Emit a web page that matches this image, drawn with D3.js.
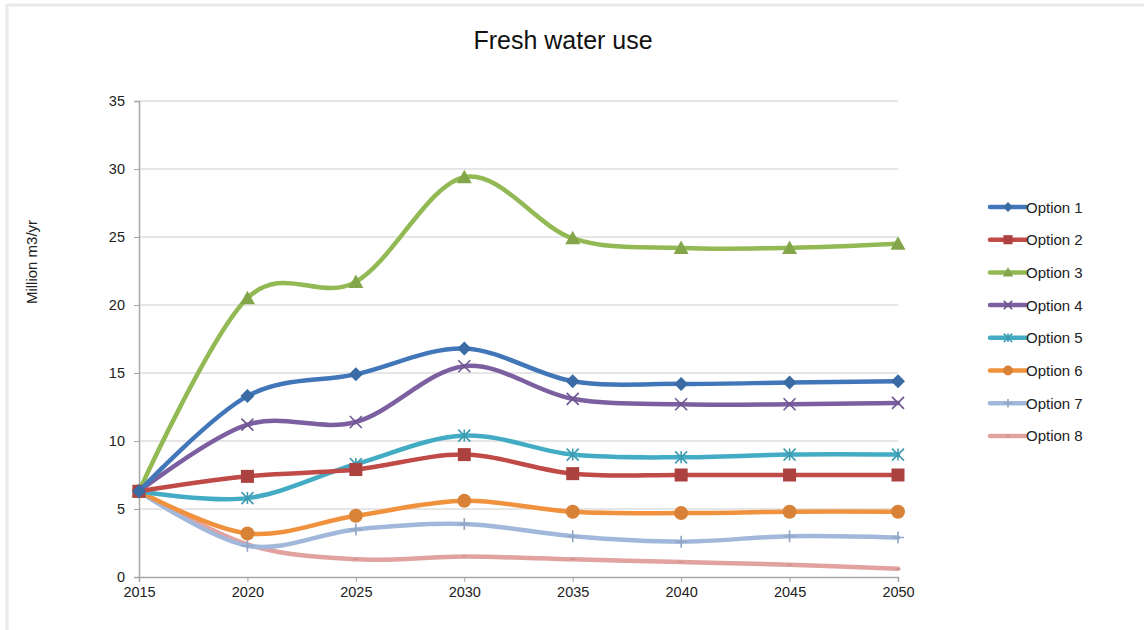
<!DOCTYPE html>
<html>
<head>
<meta charset="utf-8">
<script src="https://cdn.jsdelivr.net/npm/d3@7"></script>
<style>
	body { margin: 0; background: #fff; }
	svg { display: block; font-family: "Liberation Sans", Arial, sans-serif; }
</style>
</head>
<body>
<svg class="chart"></svg>
<script>
var years = [2015, 2020, 2025, 2030, 2035, 2040, 2045, 2050];
var yTicks = [0, 5, 10, 15, 20, 25, 30, 35];

var option1 = [6.3, 13.3, 14.9, 16.8, 14.4, 14.2, 14.3, 14.4];
var option2 = [6.3, 7.4, 7.9, 9.0, 7.6, 7.5, 7.5, 7.5];
var option3 = [6.3, 20.5, 21.7, 29.4, 24.9, 24.2, 24.2, 24.5];
var option4 = [6.3, 11.2, 11.4, 15.5, 13.1, 12.7, 12.7, 12.8];
var option5 = [6.3, 5.8, 8.3, 10.4, 9.0, 8.8, 9.0, 9.0];
var option6 = [6.3, 3.2, 4.5, 5.6, 4.8, 4.7, 4.8, 4.8];
var option7 = [6.3, 2.3, 3.5, 3.9, 3.0, 2.6, 3.0, 2.9];
var option8 = [6.3, 2.4, 1.3, 1.5, 1.3, 1.1, 0.9, 0.6];

var seriesNames = ["Option 1", "Option 2", "Option 3", "Option 4", "Option 5", "Option 6", "Option 7", "Option 8"];
var seriesValues = [option1, option2, option3, option4, option5, option6, option7, option8];
var colors = ["#4177b8", "#bf4a47", "#93b954", "#7c5fa0", "#43acc4", "#f0913d", "#a1b8db", "#e1a2a0"];
var shapes = ["diamond", "square", "triangle", "cross", "asterisk", "circle", "plus", "dash"];

var width = 1144, height = 630;
var margin = { left: 139, right: 246, top: 101, bottom: 53 };

var svg = d3.select(".chart")
	.attr("width", width)
	.attr("height", height);

// faint frame on top and left
svg.append("path")
	.attr("d", "M7,640 L7,5 L1144,5")
	.attr("fill", "none")
	.attr("stroke", "#e9e9e9")
	.attr("stroke-width", 3);

var x = d3.scaleLinear()
	.domain([2015, 2050])
	.range([margin.left, width - margin.right]);

var y = d3.scaleLinear()
	.domain([0, 35])
	.range([height - margin.bottom, margin.top]);

svg.append("text")
	.attr("x", 563)
	.attr("y", 49)
	.attr("text-anchor", "middle")
	.attr("font-size", 25)
	.attr("fill", "#111")
	.text("Fresh water use");

// gridlines
svg.append("g")
	.selectAll("line")
	.data(yTicks.slice(1))
	.enter()
	.append("line")
		.attr("x1", x(2015))
		.attr("x2", x(2050))
		.attr("y1", function(d) { return y(d); })
		.attr("y2", function(d) { return y(d); })
		.attr("stroke", "#e6e6e6")
		.attr("stroke-width", 2);

var yAxis = svg.append("g")
	.attr("transform", "translate(" + x(2015) + ",0)")
	.call(d3.axisLeft(y).tickValues(yTicks).tickSize(5).tickPadding(9).tickFormat(d3.format("d")));

var xAxis = svg.append("g")
	.attr("transform", "translate(0," + y(0) + ")")
	.call(d3.axisBottom(x).tickValues(years).tickSize(5).tickPadding(5).tickFormat(d3.format("d")));

[yAxis, xAxis].forEach(function(ax) {
	ax.select(".domain").attr("stroke", "#a6a6a6").attr("stroke-width", 1.5);
	ax.selectAll(".tick line").attr("stroke", "#a6a6a6");
	ax.selectAll(".tick text")
		.attr("font-size", 14.5)
		.attr("fill", "#222")
		.attr("font-family", "Liberation Sans, Arial, sans-serif");
});

svg.append("text")
	.attr("transform", "translate(37,262) rotate(-90)")
	.attr("text-anchor", "middle")
	.attr("font-size", 15)
	.attr("fill", "#222")
	.text("Million m3/yr");

function marker(g, shape, color, size) {
	var s = size / 2;
	if (shape == "diamond") {
		g.append("path").attr("d", "M0," + (-s) + "L" + s + ",0L0," + s + "L" + (-s) + ",0Z").attr("fill", color);
	} else if (shape == "square") {
		g.append("rect").attr("x", -s).attr("y", -s).attr("width", size).attr("height", size).attr("fill", color);
	} else if (shape == "triangle") {
		g.append("path").attr("d", "M0," + (-s) + "L" + s + "," + (s * 0.8) + "L" + (-s) + "," + (s * 0.8) + "Z").attr("fill", color);
	} else if (shape == "circle") {
		g.append("circle").attr("r", s).attr("fill", color);
	} else if (shape == "cross") {
		g.append("path").attr("d", "M" + (-s) + "," + (-s) + "L" + s + "," + s + "M" + s + "," + (-s) + "L" + (-s) + "," + s)
			.attr("stroke", color).attr("stroke-width", 1.6).attr("fill", "none");
	} else if (shape == "asterisk") {
		g.append("path").attr("d", "M" + (-s) + "," + (-s) + "L" + s + "," + s + "M" + s + "," + (-s) + "L" + (-s) + "," + s + "M0," + (-s) + "L0," + s)
			.attr("stroke", color).attr("stroke-width", 1.6).attr("fill", "none");
	} else if (shape == "plus") {
		g.append("path").attr("d", "M" + (-s) + ",0L" + s + ",0M0," + (-s) + "L0," + s)
			.attr("stroke", color).attr("stroke-width", 1.6).attr("fill", "none");
	} else if (shape == "dash") {
		g.append("path").attr("d", "M" + (-s * 0.6) + ",0L" + (s * 0.6) + ",0")
			.attr("stroke", color).attr("stroke-width", 1.5).attr("fill", "none");
	}
}

var line = d3.line()
	.x(function(d, i) { return x(years[i]); })
	.y(function(d) { return y(d); })
	.curve(d3.curveCardinal.tension(0));

var markerSize = [14, 13, 15, 12, 12, 14, 12, 8];

// draw in reverse so Option 1 ends up on top
for (var k = seriesValues.length - 1; k >= 0; k--) {
	var g = svg.append("g").attr("class", "series");
	g.append("path")
		.datum(seriesValues[k])
		.attr("d", line)
		.attr("fill", "none")
		.attr("stroke", colors[k])
		.attr("stroke-width", 4.5)
		.attr("stroke-linecap", "round");
	seriesValues[k].forEach(function(v, i) {
		var m = g.append("g").attr("transform", "translate(" + x(years[i]) + "," + y(v) + ")");
		marker(m, shapes[k], d3.color(colors[k]).darker(0.3), markerSize[k]);
	});
}

// legend
var legend = svg.append("g").attr("transform", "translate(990,207)");
seriesNames.forEach(function(name, k) {
	var row = legend.append("g").attr("transform", "translate(0," + (k * 32.7) + ")");
	row.append("line")
		.attr("x1", 0).attr("x2", 36)
		.attr("stroke", colors[k])
		.attr("stroke-width", 4.5)
		.attr("stroke-linecap", "round");
	var m = row.append("g").attr("transform", "translate(18,0)");
	marker(m, shapes[k], d3.color(colors[k]).darker(0.3), markerSize[k] * 0.7);
	row.append("text")
		.attr("x", 36)
		.attr("y", 5.5)
		.attr("font-size", 15)
		.attr("fill", "#222")
		.text(name);
});
</script>
</body>
</html>
